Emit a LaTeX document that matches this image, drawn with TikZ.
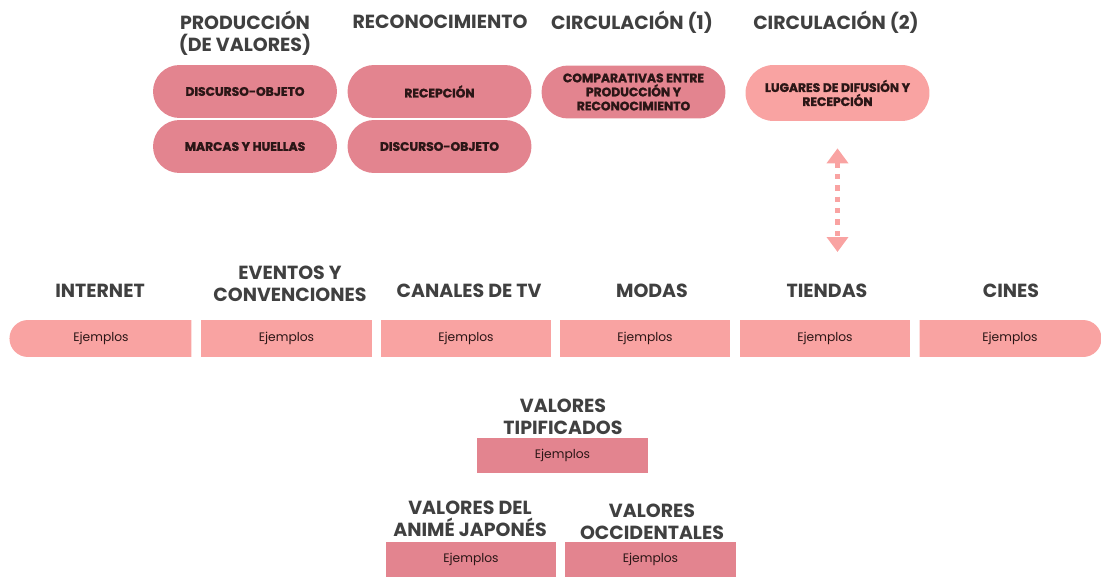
\documentclass[tikz,border=0pt]{standalone}
\usepackage{fontspec}
\setmainfont{Poppins}
\newfontfamily\gruesa{Poppins}[BoldFeatures={FakeBold=1.6}]
\usetikzlibrary{shapes.misc,arrows.meta}
\definecolor{rosaosc}{HTML}{E3848F}
\definecolor{rosacl}{HTML}{F9A3A2}
\definecolor{gristit}{HTML}{404040}
\definecolor{textopil}{HTML}{2B1616}
\tikzset{
	titulo/.style={text=gristit, font=\bfseries\fontsize{10.8}{12.5}\selectfont, align=center, inner sep=0pt},
	pastilla/.style={rounded rectangle, fill=rosaosc, minimum width=3.68cm, minimum height=1.06cm, text=textopil, font=\gruesa\bfseries\fontsize{7}{8}\selectfont, align=center, inner sep=0pt},
	barra/.style={rectangle, fill=rosacl, minimum height=0.74cm, text=textopil, font=\fontsize{7}{8}\selectfont, inner sep=0pt},
	caja/.style={rectangle, fill=rosaosc, minimum width=3.42cm, minimum height=0.70cm, text=textopil, font=\fontsize{7}{8}\selectfont, inner sep=0pt},
	flecha/.style={rosacl, line width=2.6pt, dash pattern=on 3pt off 3.5pt, {Triangle[width=0.42cm,length=0.3cm]}-{Triangle[width=0.42cm,length=0.3cm]}}
}
\begin{document}
\begin{tikzpicture}[x=0.02cm, y=-0.02cm]
		%%%%% START %%%%%
		\useasboundingbox (0,0) rectangle (1101,577);
		
		% titulos de arriba
		\node[titulo] (tprod) at (245,33) {PRODUCCIÓN\\(DE VALORES)};
		\node[titulo] (trec) at (440,22) {RECONOCIMIENTO};
		\node[titulo] (tcirc1) at (632,22) {CIRCULACIÓN (1)};
		\node[titulo] (tcirc2) at (836,22) {CIRCULACIÓN (2)};
		
		\node[pastilla] (discurso) at (245,91.5) {DISCURSO-OBJETO};
		\node[pastilla] (marcas) at (245,146.5) {MARCAS Y HUELLAS};
		\node[pastilla] (recepcion) at (439.5,91.5) {RECEPCIÓN};
		\node[pastilla] (discursob) at (439.5,146.5) {DISCURSO-OBJETO};
		\node[pastilla] (comparativas) at (633.5,92) {COMPARATIVAS ENTRE\\PRODUCCIÓN Y\\RECONOCIMIENTO};
		\node[pastilla, fill=rosacl, minimum height=1.12cm] (lugares) at (837.5,93) {LUGARES DE DIFUSIÓN Y\\RECEPCIÓN};
		
		\coordinate (finflecha) at (835,252);
		\draw[flecha, shorten <=0.54cm] (lugares.south) -- (lugares.south |- finflecha);
		
		% lugares
		\node[titulo] (tinternet) at (100,291) {INTERNET};
		\node[titulo] (teventos) at (290,284) {EVENTOS Y\\CONVENCIONES};
		\node[titulo] (tcanales) at (469,291) {CANALES DE TV};
		\node[titulo] (tmodas) at (652,291) {MODAS};
		\node[titulo] (ttiendas) at (827,291) {TIENDAS};
		\node[titulo] (tcines) at (1011,291) {CINES};
		
		\node[barra, rounded rectangle, rounded rectangle east arc=none, minimum width=3.64cm] (binternet) at (101,338.5) {Ejemplos};
		\node[barra, minimum width=3.42cm] (beventos) at (286.5,338.5) {Ejemplos};
		\node[barra, minimum width=3.40cm] (bcanales) at (466,338.5) {Ejemplos};
		\node[barra, minimum width=3.40cm] (bmodas) at (645,338.5) {Ejemplos};
		\node[barra, minimum width=3.40cm] (btiendas) at (825,338.5) {Ejemplos};
		\node[barra, rounded rectangle, rounded rectangle west arc=none, minimum width=3.64cm] (bcines) at (1010,338.5) {Ejemplos};
		
		% valores
		\node[titulo] (ttipif) at (563,417) {VALORES\\TIPIFICADOS};
		\node[caja] (ctipif) at (562.5,455.5) {Ejemplos};
		\node[titulo] (tjapon) at (470,519) {VALORES DEL\\ANIMÉ JAPONÉS};
		\node[caja] (cjapon) at (471,559.5) {Ejemplos};
		\node[titulo] (toccid) at (652,522) {VALORES\\OCCIDENTALES};
		\node[caja] (coccid) at (650.5,559.5) {Ejemplos};
		%%%%% END %%%%%
\end{tikzpicture}
\end{document}
